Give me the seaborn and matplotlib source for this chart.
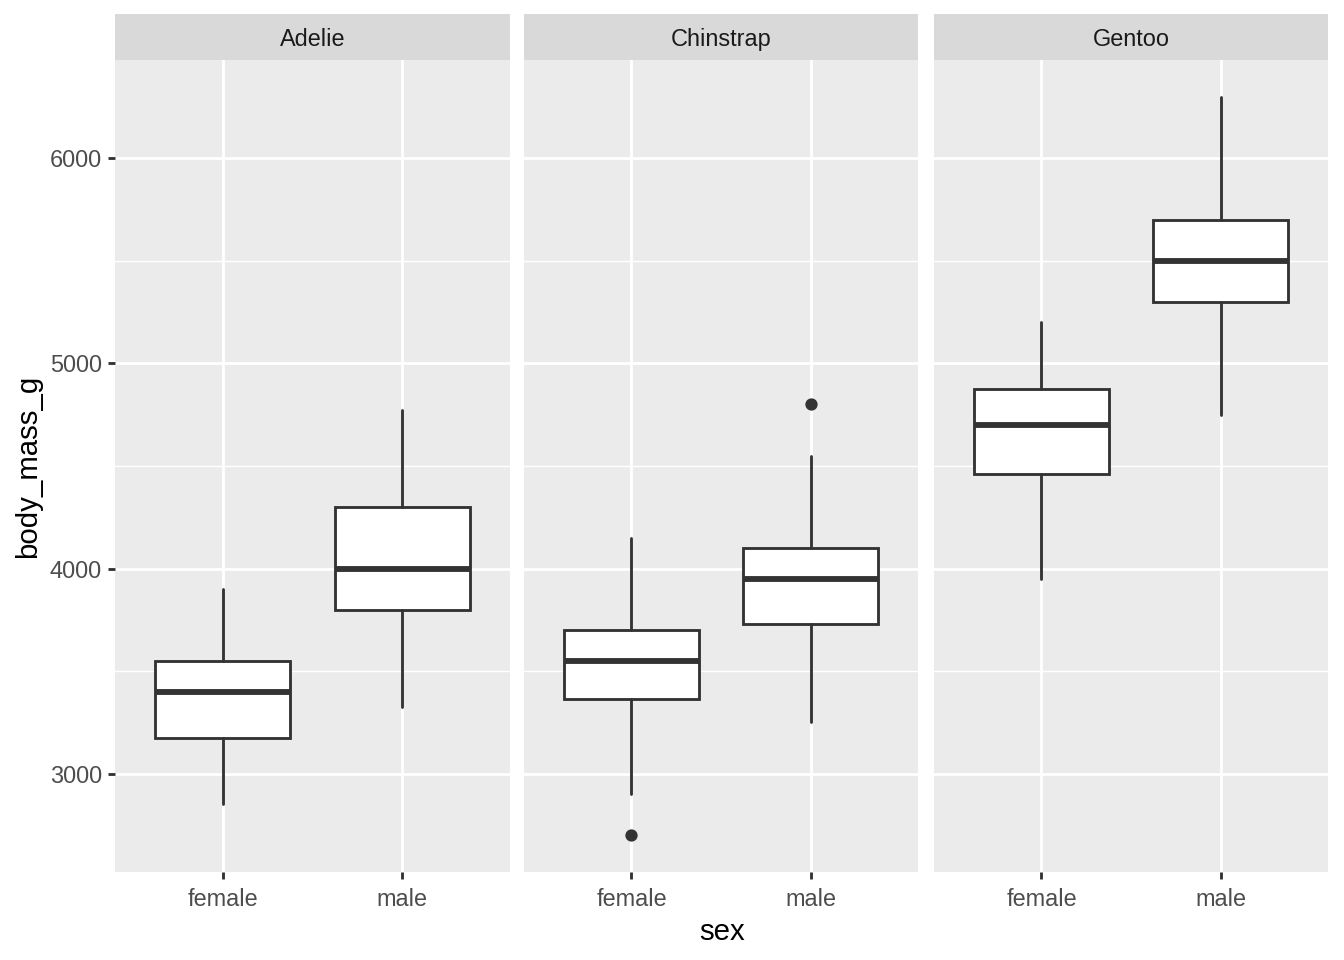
import matplotlib
matplotlib.use("Agg")
import matplotlib.pyplot as plt
import seaborn as sns
import pandas as pd
from matplotlib.patches import Rectangle

# ---- data ----
species = ["Adelie", "Chinstrap", "Gentoo"]
sexes = ["female", "male"]
box_species = ["Adelie", "Adelie", "Chinstrap", "Chinstrap", "Gentoo", "Gentoo"]
box_sex = ["female", "male", "female", "male", "female", "male"]
whislo = [2850, 3325, 2900, 3250, 3950, 4750]
q1 = [3175, 3800, 3362.5, 3731, 4462.5, 5300]
med = [3400, 4000, 3550, 3950, 4700, 5500]
q3 = [3550, 4300, 3700, 4100, 4875, 5700]
whishi = [3900, 4775, 4150, 4550, 5200, 6300]
outliers = [[], [], [2700], [4800], [], []]
yticks = [3000, 4000, 5000, 6000]
yminor = [3500, 4500, 5500]

df = pd.DataFrame({"species": box_species, "sex": box_sex, "whislo": whislo,
                   "q1": q1, "med": med, "q3": q3, "whishi": whishi,
                   "fliers": outliers})

sns.set_theme(style="white")
plt.rcParams["font.family"] = ["Liberation Sans", "DejaVu Sans"]

DARK = "#333333"
LW = 1.07


def draw_boxes(data, **kw):
    ax = plt.gca()
    stats = []
    pos = []
    for _, r in data.iterrows():
        stats.append(dict(whislo=r["whislo"], q1=r["q1"], med=r["med"],
                          q3=r["q3"], whishi=r["whishi"], fliers=list(r["fliers"])))
        pos.append(sexes.index(r["sex"]) + 1)
    ax.bxp(stats, positions=pos, widths=0.75, patch_artist=True, showcaps=False,
           boxprops=dict(facecolor="white", edgecolor=DARK, linewidth=LW),
           medianprops=dict(color=DARK, linewidth=2.2, solid_capstyle="butt"),
           whiskerprops=dict(color=DARK, linewidth=LW),
           flierprops=dict(marker="o", markerfacecolor=DARK, markeredgecolor=DARK,
                           markersize=3.6, linestyle="none"),
           zorder=3)


g = sns.FacetGrid(df, col="species", col_order=species, sharey=True,
                  height=5, aspect=0.5)
g.map_dataframe(draw_boxes)
fig = g.figure
fig.set_size_inches(7, 5)

W, H = 1344.0, 960.0
lefts = [115, 524, 934]
widths = [395, 394, 394]
top_px, bot_px = 60, 872
for i, ax in enumerate(g.axes.flat):
    ax.set_position([lefts[i] / W, (H - bot_px) / H, widths[i] / W, (bot_px - top_px) / H])
    ax.set_facecolor("#EBEBEB")
    ax.set_xticks([1, 2])
    ax.set_xticklabels(sexes)
    ax.set_yticks(yticks)
    ax.set_yticks(yminor, minor=True)
    ax.set_xlim(0.4, 2.6)
    ax.set_ylim(2520, 6480)
    ax.grid(True, which="major", color="white", linewidth=LW, zorder=0)
    ax.grid(True, which="minor", axis="y", color="white", linewidth=0.53, zorder=0)
    ax.set_axisbelow(True)
    for s in ax.spines.values():
        s.set_visible(False)
    ax.tick_params(axis="x", which="major", length=2.75, width=LW, color=DARK,
                   labelsize=8.8, labelcolor="#4D4D4D", pad=3.2, bottom=True)
    ax.tick_params(axis="y", which="major", length=2.75 if i == 0 else 0, width=LW,
                   color=DARK, labelsize=8.8, labelcolor="#4D4D4D", pad=2.2,
                   left=(i == 0), labelleft=(i == 0))
    ax.tick_params(axis="y", which="minor", length=0)
    ax.set_title("")
    ax.set_xlabel("")
    ax.set_ylabel("")
    # strip
    strip = fig.add_axes([lefts[i] / W, (H - top_px) / H, widths[i] / W, 46 / H])
    strip.add_patch(Rectangle((0, 0), 1, 1, transform=strip.transAxes,
                              facecolor="#D9D9D9", edgecolor="none"))
    strip.set_axis_off()
    strip.text(0.5, 0.44, species[i], ha="center", va="center", fontsize=8.8,
               color="#1A1A1A", transform=strip.transAxes)

fig.text(722 / W, 1 - 932 / H, "sex", ha="center", va="center", fontsize=11, color="black")
fig.text(28 / W, 1 - 466 / H, "body_mass_g", ha="center", va="center", fontsize=11,
         rotation=90, color="black")

fig.savefig("out.png", dpi=192, facecolor="white")
